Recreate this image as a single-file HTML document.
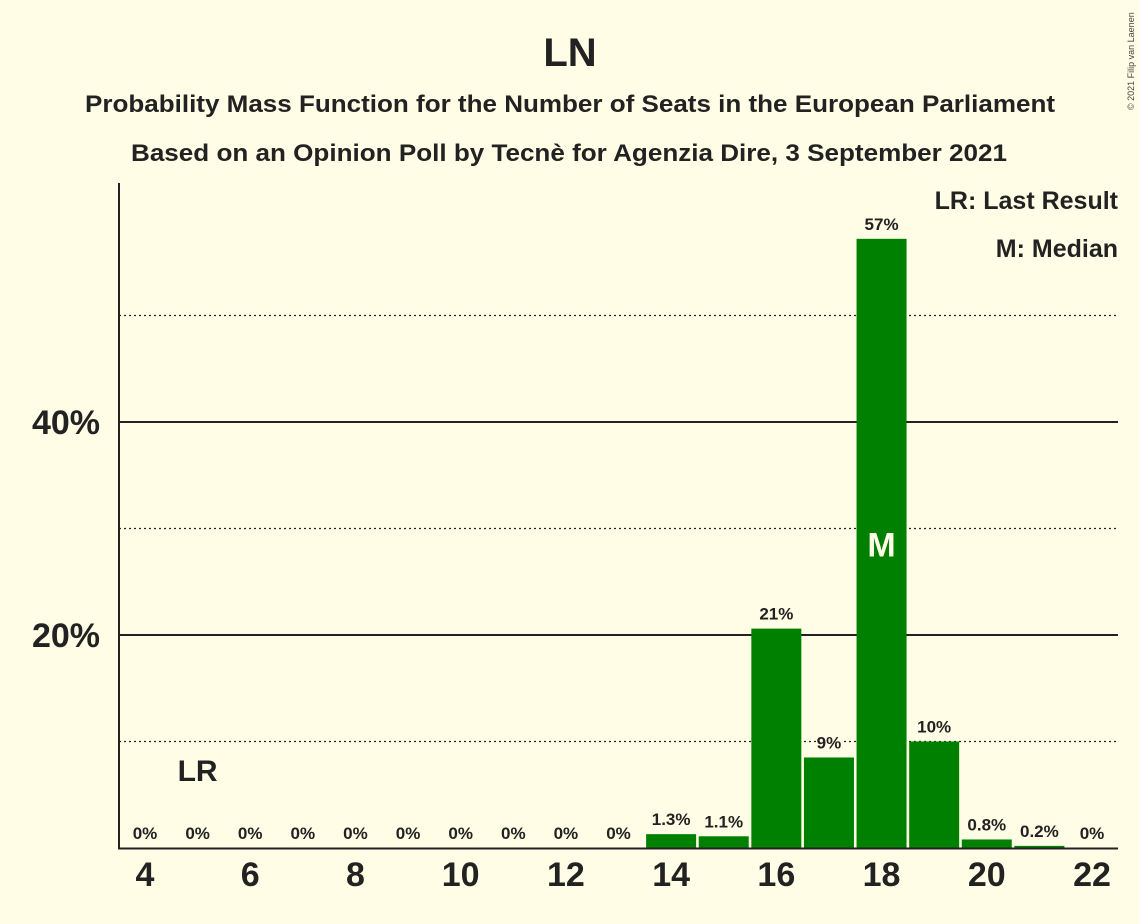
<!DOCTYPE html>
<html><head><meta charset="utf-8"><style>
body{margin:0;background:#fffde5;}
svg{display:block;font-family:"Liberation Sans",sans-serif;}
</style></head><body>
<svg id="c" width="1139" height="924" viewBox="0 0 1139 924">
<rect width="1139" height="924" fill="#fffde5"/>
<text x="570" y="66" text-anchor="middle" font-size="40" font-weight="bold" fill="#222">LN</text>
<text x="570" y="112" text-anchor="middle" font-size="24" font-weight="bold" fill="#222" textLength="970" lengthAdjust="spacingAndGlyphs">Probability Mass Function for the Number of Seats in the European Parliament</text>
<text x="569" y="161" text-anchor="middle" font-size="24" font-weight="bold" fill="#222" textLength="876" lengthAdjust="spacingAndGlyphs">Based on an Opinion Poll by Tecnè for Agenzia Dire, 3 September 2021</text>
<text x="1134" y="110" font-size="9" fill="#444" transform="rotate(-90 1134 110)">© 2021 Filip van Laenen</text>
<g id="grid"></g>
<g id="bars"></g>
<g id="labels"></g>
<line x1="119" y1="183" x2="119" y2="849" stroke="#222" stroke-width="2"/>
<line x1="118" y1="848.5" x2="1118" y2="848.5" stroke="#222" stroke-width="2"/>
<text x="1118" y="209" text-anchor="end" font-size="25" font-weight="bold" fill="#222">LR: Last Result</text>
<text x="1118" y="257" text-anchor="end" font-size="25" font-weight="bold" fill="#222">M: Median</text>
</svg>
<script>
const seats=[4,5,6,7,8,9,10,11,12,13,14,15,16,17,18,19,20,21,22];
const probs=[0,0,0,0,0,0,0,0,0,0,1.3,1.1,20.6,8.5,57.2,10.0,0.8,0.2,0];
const probLabels=["0%","0%","0%","0%","0%","0%","0%","0%","0%","0%","1.3%","1.1%","21%","9%","57%","10%","0.8%","0.2%","0%"];
const yTicks=[20,40];
const yDotted=[10,30,50];
const xTicks=[4,6,8,10,12,14,16,18,20,22];
const lastResult=5;
const median=18;
const NS="http://www.w3.org/2000/svg";
const x=s=>145+(s-4)*(1092-145)/18;
const y=v=>848-v*10.65;
function mk(t,a,p){const e=document.createElementNS(NS,t);for(const k in a)e.setAttribute(k,a[k]);p.appendChild(e);return e;}
const g=document.getElementById('grid'),b=document.getElementById('bars'),l=document.getElementById('labels');
yDotted.forEach(v=>{const e=mk('line',{x1:119,x2:1118,y1:y(v),y2:y(v),stroke:'#222','stroke-width':1.2,'stroke-dasharray':'2,3'},g);

});
yTicks.forEach(v=>{const e=mk('line',{x1:119,x2:1118,y1:y(v),y2:y(v),stroke:'#222','stroke-width':2},g);


const t=mk('text',{x:100,y:y(v)+12,'text-anchor':'end','font-size':34,'font-weight':'bold',fill:'#222'},g);t.textContent=v+'%';

});
xTicks.forEach(s=>{const t=mk('text',{x:x(s),y:886,'text-anchor':'middle','font-size':34,'font-weight':'bold',fill:'#222'},g);t.textContent=s;

});
seats.forEach((s,i)=>{const v=probs[i];
if(v>0){const r=mk('rect',{x:x(s)-25,y:y(v),width:50,height:848-y(v),fill:'#008000'},b);

}
const ty=y(v)-9;const w=probLabels[i].length*9+6;
const bg=mk('rect',{x:x(s)-w/2,y:ty-15,width:w,height:19,fill:'#fffde5'},l);


const t=mk('text',{x:x(s),y:ty,'text-anchor':'middle','font-size':17,'font-weight':'bold',fill:'#222'},l);t.textContent=probLabels[i];


if(s===median){const m=mk('text',{x:x(s),y:(y(v)+848)/2+13,'text-anchor':'middle','font-size':34,'font-weight':'bold',fill:'#fffde5'},l);m.textContent='M';

}
if(s===lastResult){const m=mk('text',{x:x(s),y:781,'text-anchor':'middle','font-size':30,'font-weight':'bold',fill:'#222'},l);m.textContent='LR';

}
});
</script>
</body></html>
